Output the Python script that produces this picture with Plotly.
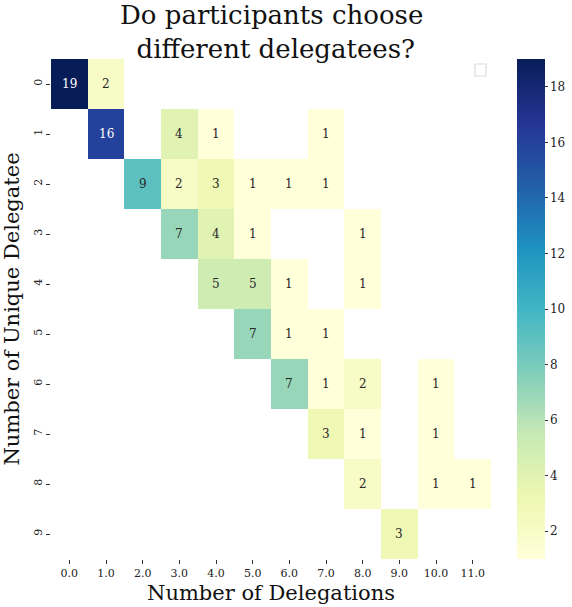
import plotly.graph_objects as go

# Counts of participants: rows = number of unique delegatees, cols = number of delegations
delegations = list(range(12))
delegation_labels = [f"{d:.1f}" for d in delegations]
unique_delegatees = list(range(10))
unique_labels = [str(u) for u in unique_delegatees]

N = None
row0 = [19, 2, N, N, N, N, N, N, N, N, N, N]
row1 = [N, 16, N, 4, 1, N, N, 1, N, N, N, N]
row2 = [N, N, 9, 2, 3, 1, 1, 1, N, N, N, N]
row3 = [N, N, N, 7, 4, 1, N, N, 1, N, N, N]
row4 = [N, N, N, N, 5, 5, 1, N, 1, N, N, N]
row5 = [N, N, N, N, N, 7, 1, 1, N, N, N, N]
row6 = [N, N, N, N, N, N, 7, 1, 2, N, 1, N]
row7 = [N, N, N, N, N, N, N, 3, 1, N, 1, N]
row8 = [N, N, N, N, N, N, N, N, 2, N, 1, 1]
row9 = [N, N, N, N, N, N, N, N, N, 3, N, N]
counts = [row0, row1, row2, row3, row4, row5, row6, row7, row8, row9]

colorbar_ticks = [2, 4, 6, 8, 10, 12, 14, 16, 18]

ylgnbu = ["#ffffd9", "#edf8b1", "#c7e9b4", "#7fcdbb", "#41b6c4",
          "#1d91c0", "#225ea8", "#253494", "#081d58"]
colorscale = [[i / (len(ylgnbu) - 1), c] for i, c in enumerate(ylgnbu)]

FONT = "DejaVu Serif"
vmin, vmax = 1, 19

fig = go.Figure()
fig.add_trace(go.Heatmap(
    z=counts,
    x=delegations,
    y=unique_delegatees,
    colorscale=colorscale,
    zmin=vmin,
    zmax=vmax,
    hoverongaps=False,
    colorbar=dict(
        x=1.059, xanchor="left", xref="paper",
        y=0.5, yanchor="middle", len=1.0, lenmode="fraction",
        thickness=28, outlinewidth=0, xpad=0, ypad=0,
        tickvals=colorbar_ticks,
        ticks="outside", ticklen=3, tickwidth=1, tickcolor="#333",
        tickfont=dict(family=FONT, size=12, color="#222"),
    ),
))

# value annotations inside cells
annotations = []
for r, row in zip(unique_delegatees, counts):
    for c, v in zip(delegations, row):
        if v is None:
            continue
        frac = (v - vmin) / (vmax - vmin)
        annotations.append(dict(
            x=c, y=r, text=str(v), showarrow=False,
            font=dict(family=FONT, size=12,
                      color="white" if frac > 0.6 else "#262626"),
        ))

# two-line title
annotations.append(dict(
    xref="paper", yref="paper", x=0.5, y=(559 + 2) / 500,
    xanchor="center", yanchor="top", showarrow=False,
    text="Do participants choose<br> different delegatees?",
    font=dict(family=FONT, size=26, color="#111"),
))

fig.update_layout(
    width=572, height=607,
    margin=dict(l=51, r=81, t=59, b=48, autoexpand=False),
    paper_bgcolor="white", plot_bgcolor="white",
    font=dict(family=FONT, color="#111"),
    annotations=annotations,
    xaxis=dict(
        tickmode="array", tickvals=delegations, ticktext=delegation_labels,
        range=[-0.5, 11.5], showgrid=False, zeroline=False, showline=False,
        ticks="outside", ticklen=4, tickwidth=1, tickcolor="#333",
        tickfont=dict(family=FONT, size=11, color="#222"),
        title=dict(text="Number of Delegations", standoff=6,
                   font=dict(family=FONT, size=21, color="#111")),
    ),
    yaxis=dict(
        tickmode="array", tickvals=unique_delegatees, ticktext=unique_labels,
        range=[9.5, -0.5], showgrid=False, zeroline=False, showline=False,
        ticks="outside", ticklen=4, tickwidth=1, tickcolor="#333",
        tickangle=-90,
        tickfont=dict(family=FONT, size=11, color="#222"),
        title=dict(text="Number of Unique Delegatee", standoff=6,
                   font=dict(family=FONT, size=21, color="#111")),
    ),
    shapes=[dict(
        type="rect", xref="paper", yref="paper",
        x0=(475 - 51) / 440, x1=(486 - 51) / 440,
        y0=(559 - 76) / 500, y1=(559 - 64) / 500,
        line=dict(color="#dcdcdc", width=1.2), fillcolor="white",
    )],
)

fig.write_html("out.html")
